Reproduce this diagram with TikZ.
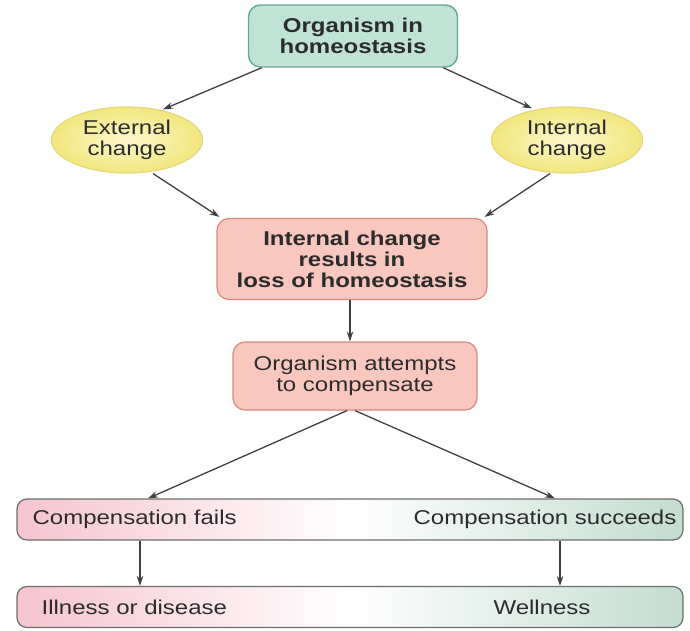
\documentclass[tikz,border=0pt]{standalone}
\usepackage{fontspec}
\setmainfont{Liberation Sans}[FakeStretch=1.2]
\usetikzlibrary{arrows.meta,shapes.geometric,calc}
\definecolor{tealfill}{HTML}{BFE4D5}
\definecolor{tealline}{HTML}{67AA8E}
\definecolor{salmonfill}{HTML}{F8C7BD}
\definecolor{salmonline}{HTML}{D8897C}
\definecolor{yellowin}{HTML}{FCF8CC}
\definecolor{yellowout}{HTML}{F3E67E}
\definecolor{yellowline}{HTML}{E6D67C}
\definecolor{pinkend}{HTML}{F5C4CF}
\definecolor{greenend}{HTML}{C2DDD0}
\definecolor{barline}{HTML}{6E6E6E}
\definecolor{ink}{HTML}{2C2C2C}
\definecolor{arrowgray}{HTML}{404040}
\tikzset{
  txt/.style={font=\fontsize{20}{21}\selectfont, text=ink, align=center, inner sep=0pt},
  startbox/.style={txt, font=\fontsize{20}{21}\selectfont\bfseries, draw=tealline, fill=tealfill,
    line width=1.4pt, rounded corners=12pt, minimum width=209pt, minimum height=62pt},
  changeoval/.style={txt, ellipse, draw=yellowline, line width=1.2pt,
    inner color=yellowin, outer color=yellowout, minimum width=151pt, minimum height=66pt},
  lossbox/.style={txt, draw=salmonline, fill=salmonfill, line width=1.2pt,
    rounded corners=12pt, minimum width=270pt, minimum height=81pt},
  attemptbox/.style={txt, draw=salmonline, fill=salmonfill, line width=1.2pt,
    rounded corners=12pt, minimum width=244pt, minimum height=68pt},
  outcomebar/.style={draw=barline, line width=1.2pt, rounded corners=10pt,
    left color=pinkend, right color=greenend, middle color=white,
    minimum width=666pt, minimum height=41pt, inner sep=0pt},
  flow/.style={draw=arrowgray, line width=1.3pt, -{Stealth[length=10pt,width=6.5pt]}}
}
\begin{document}
\begin{tikzpicture}[x=1pt,y=-1pt]
\useasboundingbox (0,0) rectangle (690,631);

% boxes and ovals
\node[startbox] (home) at (353,36) {Organism in\\homeostasis};
\node[changeoval] (ext) at (127,140) {External\\change};
\node[changeoval] (int) at (567,140) {Internal\\change};
\node[lossbox, font=\fontsize{20}{21}\selectfont\bfseries] (loss) at (352,259)
  {Internal change\\results in\\loss of homeostasis};
\node[attemptbox] (try) at (355,376) {Organism attempts\\to compensate};
\node[outcomebar] (comp) at (350,519.5) {};
\node[outcomebar] (health) at (350,607) {};

% labels on the two outcome bars
\node[txt, anchor=west] (fails) at ($(comp.west)+(16,0)$) {Compensation fails};
\node[txt, anchor=east] (succ) at ($(comp.east)+(-7,0)$) {Compensation succeeds};
\node[txt, anchor=west] (ill) at ($(health.west)+(25,0)$) {Illness or disease};
\node[txt] (well) at (542,607) {Wellness};

% connectors
\draw[flow] ($(home.south west)+(14,0)$) -- ($(ext.north)+(36,3)$);
\draw[flow] ($(home.south east)+(-15,0)$) -- ($(int.north)+(-35,2)$);
\draw[flow] ($(ext.south)+(26,0)$) -- ($(loss.north west)+(3,-1)$);
\draw[flow] ($(int.south)+(-17,0)$) -- ($(loss.north east)+(-3,-1)$);
\draw[flow] (loss.south -| 350,0) -- (try.north -| 350,0);
\draw[flow] ($(try.south)+(-8,0)$) -- (comp.north -| 148,0);
\draw[flow] ($(try.south)+(0,0)$) -- (comp.north -| 555,0);
\draw[flow] (comp.south -| 140,0) -- (health.north -| 140,0);
\draw[flow] (comp.south -| 560,0) -- (health.north -| 560,0);
\end{tikzpicture}
\end{document}
